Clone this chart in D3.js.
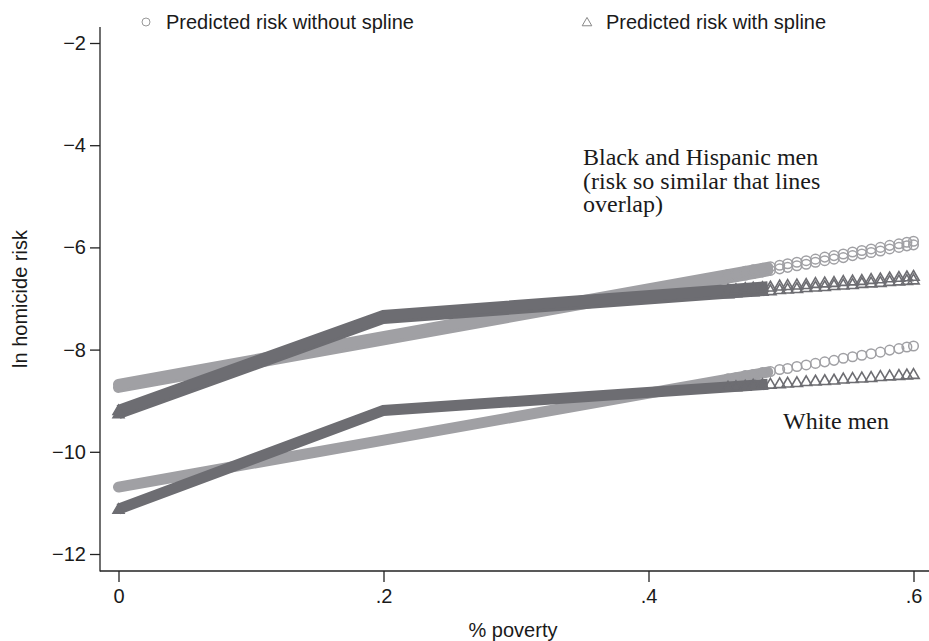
<!DOCTYPE html>
<html>
<head>
<meta charset="utf-8">
<script src="https://cdn.jsdelivr.net/npm/d3@7/dist/d3.min.js"></script>
<style>
  html, body { margin: 0; padding: 0; background: #fff; }
  svg { display: block; }
  .sans { font-family: "Liberation Sans", Arial, Helvetica, sans-serif; fill: #1a1a1a; }
  .serif { font-family: "Liberation Serif", "Times New Roman", serif; fill: #1a1a1a; }
</style>
</head>
<body>
<svg id="chart" width="929" height="641"></svg>
<script>
// Axis ticks
const xTicks = [0, 0.2, 0.4, 0.6];
const xTickLabels = ["0", ".2", ".4", ".6"];
const yTicks = [-2, -4, -6, -8, -10, -12];

// Dense stretch of each fitted curve (poverty, ln risk) where markers merge into a band
const bandPovertyLinear = [0, 0.49];
const bandPovertySpline = [0, 0.2, 0.49];
const blackLinearBand = [-8.68, -6.39];
const hispanicLinearBand = [-8.74, -6.46];
const whiteLinearBand = [-10.69, -8.44];
const blackSplineBand = [-9.19, -7.33, -6.77];
const hispanicSplineBand = [-9.25, -7.39, -6.84];
const whiteSplineBand = [-11.12, -9.19, -8.68];

// High-poverty counties, where individual markers can be told apart
const markerPoverty = [0.460, 0.466, 0.473, 0.479, 0.486, 0.492, 0.499, 0.505, 0.512, 0.519, 0.526,
                       0.533, 0.540, 0.547, 0.554, 0.561, 0.568, 0.575, 0.582, 0.589, 0.595, 0.600];
const whiteLinear = [-8.57, -8.55, -8.51, -8.49, -8.45, -8.43, -8.39, -8.37, -8.33, -8.30, -8.27,
                     -8.24, -8.21, -8.17, -8.14, -8.11, -8.08, -8.05, -8.01, -7.98, -7.95, -7.93];
const whiteSpline = [-8.73, -8.72, -8.71, -8.69, -8.68, -8.67, -8.66, -8.65, -8.64, -8.62, -8.61,
                     -8.60, -8.59, -8.57, -8.56, -8.55, -8.54, -8.52, -8.51, -8.50, -8.49, -8.48];
const blackLinear = [-6.53, -6.51, -6.47, -6.44, -6.41, -6.38, -6.35, -6.32, -6.29, -6.26, -6.23,
                     -6.19, -6.16, -6.13, -6.09, -6.06, -6.03, -6.00, -5.96, -5.93, -5.90, -5.88];
const hispanicLinear = [-6.60, -6.57, -6.54, -6.51, -6.48, -6.45, -6.42, -6.39, -6.36, -6.33, -6.29,
                        -6.26, -6.23, -6.20, -6.16, -6.13, -6.10, -6.07, -6.03, -6.00, -5.97, -5.95];
const blackSpline = [-6.83, -6.82, -6.80, -6.79, -6.78, -6.77, -6.75, -6.74, -6.73, -6.72, -6.70,
                     -6.69, -6.68, -6.66, -6.65, -6.64, -6.62, -6.61, -6.59, -6.58, -6.57, -6.56];
const hispanicSpline = [-6.90, -6.88, -6.87, -6.86, -6.85, -6.84, -6.82, -6.81, -6.80, -6.78, -6.77,
                        -6.76, -6.74, -6.73, -6.72, -6.70, -6.69, -6.68, -6.66, -6.65, -6.64, -6.63];

const LIGHT = "#a0a0a4";
const DARK = "#6d6d72";

const svg = d3.select("#chart");

const x = d3.scaleLinear().domain([0, 0.6]).range([118.5, 913.5]);
const y = d3.scaleLinear().domain([-12, -2]).range([554, 43]);

const axisX = 100, axisY = 571;

// Axis lines (left and bottom only)
svg.append("line").attr("x1", axisX).attr("x2", axisX).attr("y1", 27).attr("y2", axisY + 0.5)
  .attr("stroke", "#222").attr("stroke-width", 1.3);
svg.append("line").attr("x1", axisX).attr("x2", 929).attr("y1", axisY).attr("y2", axisY)
  .attr("stroke", "#222").attr("stroke-width", 1.3);

// Y axis
const gy = svg.append("g").attr("transform", `translate(${axisX},0)`)
  .call(d3.axisLeft(y).tickValues(yTicks).tickSize(10).tickPadding(4)
    .tickFormat(d => String(d).replace("-", "\u2212")));
gy.select(".domain").remove();
gy.selectAll(".tick line").attr("stroke", "#222").attr("stroke-width", 1.3);
gy.selectAll(".tick text").attr("class", "sans").style("font-size", "20px").attr("fill", "#1a1a1a");

// X axis
const gx = svg.append("g").attr("transform", `translate(0,${axisY})`)
  .call(d3.axisBottom(x).tickValues(xTicks).tickSize(11).tickPadding(7)
    .tickFormat((d, i) => xTickLabels[i]));
gx.select(".domain").remove();
gx.selectAll(".tick line").attr("stroke", "#222").attr("stroke-width", 1.3);
gx.selectAll(".tick text").attr("class", "sans").style("font-size", "20px").attr("fill", "#1a1a1a");

// Axis titles
svg.append("text").attr("class", "sans").attr("x", 513).attr("y", 637)
  .attr("text-anchor", "middle").style("font-size", "20px").text("% poverty");
svg.append("text").attr("class", "sans")
  .attr("transform", "translate(27,299) rotate(-90)")
  .attr("text-anchor", "middle").style("font-size", "20px").text("ln homicide risk");

const line = d3.line().x(d => x(d.p)).y(d => y(d.r));
const zip = (ps, rs) => ps.map((p, i) => ({ p, r: rs[i] }));
const tri = d3.symbol().type(d3.symbolTriangle).size(55);

const plot = svg.append("g");

// Predicted risk without spline: hollow circles
function circleSeries(bandVals, markerVals) {
  const band = zip(bandPovertyLinear, bandVals);
  plot.append("path").datum(band).attr("d", line)
    .attr("fill", "none").attr("stroke", LIGHT).attr("stroke-width", 11)
    .attr("stroke-linecap", "round");
  plot.append("g").selectAll("circle").data(zip(markerPoverty, markerVals)).join("circle")
    .attr("cx", d => x(d.p)).attr("cy", d => y(d.r)).attr("r", 4.8)
    .attr("fill", "none").attr("stroke", LIGHT).attr("stroke-width", 1.5);
}
// Predicted risk with spline: hollow triangles
function triangleSeries(bandVals, markerVals) {
  const band = zip(bandPovertySpline, bandVals);
  plot.append("path").datum(band).attr("d", line)
    .attr("fill", "none").attr("stroke", DARK).attr("stroke-width", 11)
    .attr("stroke-linejoin", "miter");
  plot.append("path").attr("d", tri)
    .attr("transform", `translate(${x(band[0].p)},${y(band[0].r) + 1})`)
    .attr("fill", DARK).attr("stroke", DARK).attr("stroke-width", 1.4);
  plot.append("g").selectAll("path").data(zip(markerPoverty, markerVals)).join("path")
    .attr("d", tri)
    .attr("transform", d => `translate(${x(d.p)},${y(d.r) + 1})`)
    .attr("fill", "none").attr("stroke", DARK).attr("stroke-width", 1.6);
}

circleSeries(whiteLinearBand, whiteLinear);
circleSeries(hispanicLinearBand, hispanicLinear);
circleSeries(blackLinearBand, blackLinear);
triangleSeries(whiteSplineBand, whiteSpline);
triangleSeries(hispanicSplineBand, hispanicSpline);
triangleSeries(blackSplineBand, blackSpline);

// Legend
svg.append("circle").attr("cx", 146).attr("cy", 22).attr("r", 4)
  .attr("fill", "none").attr("stroke", "#999").attr("stroke-width", 1);
svg.append("text").attr("class", "sans").attr("x", 166).attr("y", 29)
  .style("font-size", "20px").text("Predicted risk without spline");
svg.append("path").attr("d", d3.symbol().type(d3.symbolTriangle).size(40))
  .attr("transform", "translate(587,23)")
  .attr("fill", "none").attr("stroke", "#888").attr("stroke-width", 1);
svg.append("text").attr("class", "sans").attr("x", 606).attr("y", 29)
  .style("font-size", "20px").text("Predicted risk with spline");

// Group annotations
const note = svg.append("text").attr("class", "serif").style("font-size", "24px");
["Black and Hispanic men", "(risk so similar that lines", "overlap)"].forEach((t, i) => {
  note.append("tspan").attr("x", 583).attr("y", 165 + i * 23.5).text(t);
});
svg.append("text").attr("class", "serif").attr("x", 783).attr("y", 429)
  .style("font-size", "24px").text("White men");
</script>
</body>
</html>
